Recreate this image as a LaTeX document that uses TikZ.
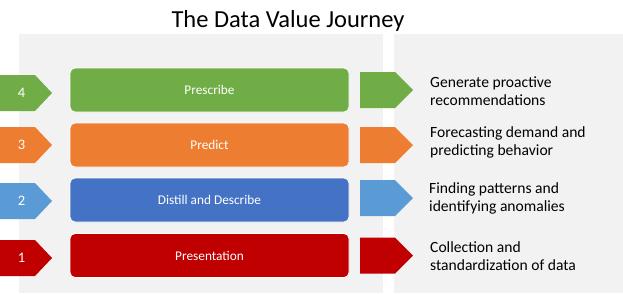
\documentclass[tikz,border=0pt]{standalone}
\usepackage{fontspec}
\setmainfont{Carlito}
\definecolor{cgreen}{HTML}{70AD47}
\definecolor{corange}{HTML}{ED7D31}
\definecolor{cblue}{HTML}{4472C4}
\definecolor{clblue}{HTML}{5B9BD5}
\definecolor{cred}{HTML}{C00000}
\definecolor{cgray}{HTML}{F2F2F2}
\begin{document}
\begin{tikzpicture}[x=1pt,y=-1pt,
  panel/.style={fill=cgray},
  bar/.style={rounded corners=5pt, draw=white, line width=0.8pt, minimum width=279pt, minimum height=44pt, inner sep=0pt,
    text=white, font=\fontsize{13.3}{15}\selectfont},
  numtext/.style={text=white, font=\fontsize{14.5}{16}\selectfont, inner sep=0pt},
  desc/.style={anchor=west, align=left, inner sep=0pt, font=\fontsize{15.6}{18}\selectfont}]
\useasboundingbox (0,0) rectangle (623,293);
\fill[white] (0,0) rectangle (623,293);
% panels
\path[panel] (19,34) rectangle (383,293);
\path[panel] (394,34) rectangle (623,293);
% title
\node[font=\fontsize{24.5}{27}\selectfont, inner sep=0pt] (title) at (288,21) {The Data Value Journey};
% left number pentagons
\foreach \c/\y/\n/\lab in {cgreen/93/4/n4, corange/145/3/n3, clblue/201/2/n2, cred/258/1/n1}{
  \fill[\c] (-5,\y-18) -- (35,\y-18) -- (52,\y) -- (35,\y+18) -- (-5,\y+18) -- cycle;
  \node[numtext] (\lab) at (21.5,\y) {\n};
}
% bars
\node[bar, fill=cgreen] (b4) at (209.5,90) {Prescribe};
\node[bar, fill=corange] (b3) at (209.5,145) {Predict};
\node[bar, fill=cblue] (b2) at (209.5,200) {Distill and Describe};
\node[bar, fill=cred] (b1) at (209.5,255.5) {Presentation};
% right pentagons
\foreach \c/\y in {cgreen/90, corange/145, clblue/198, cred/255.5}{
  \fill[\c] (360,\y-18) -- (395,\y-18) -- (413,\y) -- (395,\y+18) -- (360,\y+18) -- cycle;
}
% descriptions
\node[desc] (d4) at (430,91) {Generate proactive\\recommendations};
\node[desc] (d3) at (430,142) {Forecasting demand and\\predicting behavior};
\node[desc] (d2) at (429,198) {Finding patterns and\\identifying anomalies};
\node[desc] (d1) at (430,256) {Collection and\\standardization of data};
\end{tikzpicture}
\end{document}
